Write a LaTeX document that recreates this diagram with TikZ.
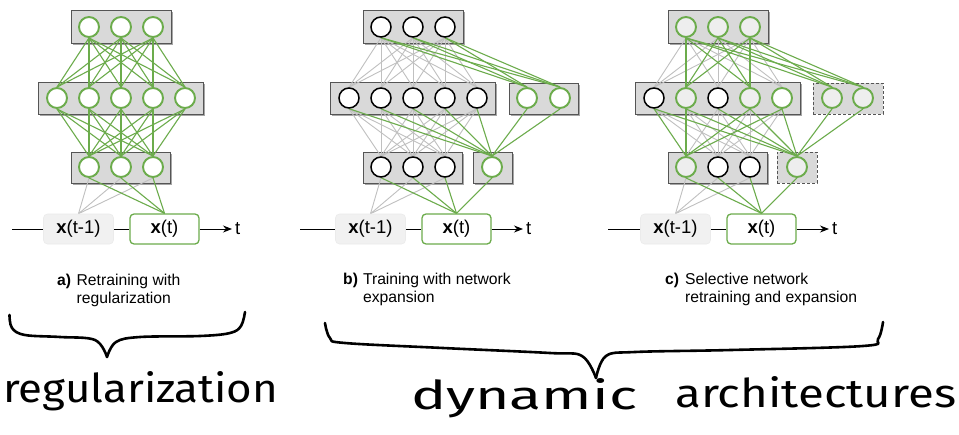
\documentclass[tikz,border=0pt]{standalone}
\usepackage{fontspec}
\usepackage{graphicx}
\setmainfont{Liberation Sans}
\newfontfamily\handfont{Fira Sans}
\usetikzlibrary{arrows.meta,shadows}
\definecolor{gr}{RGB}{108,172,76}
\definecolor{boxfill}{RGB}{217,217,217}
\definecolor{boxedge}{RGB}{85,85,85}
\definecolor{lgray}{RGB}{192,192,192}
\definecolor{cfill}{RGB}{238,238,238}
\definecolor{prevfill}{RGB}{241,241,241}
\pgfdeclarelayer{boxes}
\pgfdeclarelayer{lines}
\pgfsetlayers{boxes,lines,main}
\tikzset{
  layerbox/.style={rectangle,fill=boxfill,draw=boxedge,line width=0.8pt,inner sep=0pt,
    drop shadow={shadow xshift=1.6pt,shadow yshift=-1.6pt,fill=black,opacity=0.35}},
  dashbox/.style={rectangle,fill=boxfill,draw=boxedge,line width=0.8pt,inner sep=0pt,dashed,
    dash pattern=on 3pt off 2pt},
  neuron/.style={circle,minimum size=20pt,inner sep=0pt},
  gc/.style={neuron,draw=gr,line width=1.9pt,fill=white},
  gcf/.style={neuron,draw=gr,line width=1.9pt,fill=cfill},
  bc/.style={neuron,draw=black,line width=1.5pt,fill=white},
  gline/.style={draw=gr,line width=1.1pt},
  lline/.style={draw=lgray,line width=0.9pt},
  prevbox/.style={rectangle,rounded corners=4pt,fill=prevfill,draw=black!8,line width=0.6pt,
    minimum width=70pt,minimum height=30pt,inner sep=0pt,font=\fontsize{18.5}{20}\selectfont},
  curbox/.style={rectangle,rounded corners=4pt,fill=white,draw=gr,line width=1.3pt,
    minimum width=69pt,minimum height=30pt,inner sep=0pt,font=\fontsize{18.5}{20}\selectfont},
  timeline/.style={draw=black,line width=0.9pt},
  tlabel/.style={inner sep=0pt,font=\fontsize{18.5}{20}\selectfont},
  caption/.style={inner sep=0pt,anchor=base west,font=\fontsize{15.7}{18.5}\selectfont},
  handline/.style={draw=black,line width=2.6pt,line cap=round,line join=round},
  handtext/.style={inner sep=0pt,anchor=base west,font=\handfont\fontsize{40}{40}\selectfont}
}
\newcommand\panelframe[4]{%
  \begin{pgfonlayer}{boxes}
    \node[layerbox,minimum width=100pt,minimum height=33pt] (#1LT) at (#2,26.5) {};
    \node[layerbox,minimum width=165pt,minimum height=32pt] (#1LM) at (#2,98) {};
    \node[layerbox,minimum width=99pt,minimum height=31pt] (#1LB) at (#2,167.5) {};
  \end{pgfonlayer}
  \node[prevbox] (#1P) at (#2-42.5,229) {\textbf{x}(t-1)};
  \node[curbox] (#1X) at (#2+43.5,229) {\textbf{x}(t)};
  \coordinate (#1S) at (#3,229);
  \coordinate (#1E) at (#4,229);
  \draw[timeline] (#1S) -- (#1P);
  \draw[timeline] (#1P) -- (#1X);
  \draw[timeline,-{Stealth[length=9pt,width=7pt]}] (#1X) -- (#1E);
  \node[tlabel,anchor=west] (#1t) at ([xshift=3pt]#1E) {t};
}
\begin{document}
\begin{tikzpicture}[x=1pt,y=-1pt]
\begin{pgfonlayer}{boxes}
  \path[use as bounding box,fill=white] (0,0) rectangle (959,434);
\end{pgfonlayer}

% ---------------- panel a ----------------
\panelframe{a}{121}{12}{232}
\foreach \i in {1,2,3} \node[gc] (aT\i) at (121+32*\i-64,27) {};
\foreach \i in {1,...,5} \node[gc] (aM\i) at (121+32*\i-96,98) {};
\foreach \i in {1,2,3} \node[gc] (aB\i) at (121+32*\i-64,167) {};
\begin{pgfonlayer}{lines}
  \foreach \k in {1,2,3} \draw[lline] (aB\k.south) -- (aP.north);
  \foreach \i in {1,2,3} \foreach \j in {1,...,5} \draw[gline] (aT\i.south) -- (aM\j.north);
  \foreach \j in {1,...,5} \foreach \k in {1,2,3} \draw[gline] (aM\j.south) -- (aB\k.north);
  \foreach \k in {1,2,3} \draw[gline] (aB\k.south) -- (aX.north);
\end{pgfonlayer}
\node[caption] (capa) at (57,285) {\begin{tabular}[t]{@{}l@{\hspace{5.5pt}}l@{}}\textbf{a)}&Retraining with\\&regularization\end{tabular}};

% ---------------- panel b ----------------
\panelframe{b}{413}{300}{523}
\begin{pgfonlayer}{boxes}
  \node[layerbox,minimum width=69pt,minimum height=31pt] (bLE) at (543.5,98.5) {};
  \node[layerbox,minimum width=39pt,minimum height=31pt] (bLF) at (492.5,167.5) {};
\end{pgfonlayer}
\foreach \i in {1,2,3} \node[bc] (bT\i) at (413+32*\i-64,27) {};
\foreach \i in {1,...,5} \node[bc] (bM\i) at (413+32*\i-96,98) {};
\foreach \i in {1,2,3} \node[bc] (bB\i) at (413+32*\i-64,167) {};
\node[gc] (bE1) at (527,98) {};
\node[gc] (bE2) at (560,98) {};
\node[gc] (bF) at (492,167) {};
\begin{pgfonlayer}{lines}
  \foreach \i in {1,2,3} \foreach \j in {1,...,5} \draw[lline] (bT\i.south) -- (bM\j.north);
  \foreach \j in {1,...,5} \foreach \k in {1,2,3} \draw[lline] (bM\j.south) -- (bB\k.north);
  \foreach \k in {1,2,3} \draw[lline] (bB\k.south) -- (bP.north);
  \foreach \i in {1,2,3} \foreach \e in {1,2} \draw[gline] (bT\i.south) -- (bE\e.north);
  \foreach \j in {1,...,5} \draw[gline] (bM\j.south) -- (bF.north);
  \foreach \e in {1,2} \draw[gline] (bE\e.south) -- (bF.north);
  \foreach \k in {1,2,3} \draw[gline] (bB\k.south) -- (bX.north);
  \draw[gline] (bF.south) -- (bX.north);
\end{pgfonlayer}
\node[caption] (capb) at (343,284) {\begin{tabular}[t]{@{}l@{\hspace{5pt}}l@{}}\textbf{b)}&Training with network\\&expansion\end{tabular}};

% ---------------- panel c ----------------
\panelframe{c}{718}{608}{829}
\begin{pgfonlayer}{boxes}
  \node[dashbox,minimum width=70pt,minimum height=31pt] (cLE) at (848,98.5) {};
  \node[dashbox,minimum width=40pt,minimum height=31pt] (cLF) at (797,167.5) {};
\end{pgfonlayer}
\foreach \i in {1,2,3} \node[gcf] (cT\i) at (718+32*\i-64,27) {};
\node[bc]  (cM1) at (654,98) {};
\node[gcf] (cM2) at (686,98) {};
\node[bc]  (cM3) at (718,98) {};
\node[gcf] (cM4) at (750,98) {};
\node[gc]  (cM5) at (782,98) {};
\node[gcf] (cB1) at (686,167) {};
\node[bc]  (cB2) at (718,167) {};
\node[bc]  (cB3) at (750,167) {};
\node[gcf] (cE1) at (832,98) {};
\node[gcf] (cE2) at (863,98) {};
\node[gcf] (cF) at (797,167) {};
\begin{pgfonlayer}{lines}
  \foreach \i in {1,2,3} \foreach \j in {1,3,5} \draw[lline] (cT\i.south) -- (cM\j.north);
  \foreach \j in {1,...,5} \foreach \k in {2,3} \draw[lline] (cM\j.south) -- (cB\k.north);
  \draw[lline] (cM3.south) -- (cB1.north);
  \foreach \k in {1,2,3} \draw[lline] (cB\k.south) -- (cP.north);
  \foreach \i in {1,2,3} \foreach \j in {2,4} \draw[gline] (cT\i.south) -- (cM\j.north);
  \foreach \i in {1,2,3} \foreach \e in {1,2} \draw[gline] (cT\i.south) -- (cE\e.north);
  \foreach \j in {1,2,4,5} \draw[gline] (cM\j.south) -- (cB1.north);
  \foreach \j in {1,...,5} \draw[gline] (cM\j.south) -- (cF.north);
  \foreach \e in {1,2} \draw[gline] (cE\e.south) -- (cF.north);
  \foreach \k in {1,2,3} \draw[gline] (cB\k.south) -- (cX.north);
  \draw[gline] (cF.south) -- (cX.north);
\end{pgfonlayer}
\node[caption] (capc) at (665,284) {\begin{tabular}[t]{@{}l@{\hspace{6pt}}l@{}}\textbf{c)}&Selective network\\&retraining and expansion\end{tabular}};

% ---------------- hand-drawn braces and words ----------------
\draw[handline] plot[smooth,tension=0.6] coordinates {(9.5,315) (12,328) (25,335) (60,337) (95,340) (107,357)};
\draw[handline] plot[smooth,tension=0.6] coordinates {(107,357) (116,342) (140,337) (200,336) (230,333) (241,326) (245,312)};
\draw[handline] plot[smooth,tension=0.6] coordinates {(325,323) (330,338) (345,343) (443,348) (550,353) (582,356) (596,378)};
\draw[handline] plot[smooth,tension=0.6] coordinates {(596,378) (606,356) (635,352) (731,350) (863,346) (878,339) (883,322)};
\node[handtext] (hreg) at (3,402) {\resizebox{275pt}{31pt}{regularization}};
\node[handtext] (hdyn) at (411,409) {\resizebox{226pt}{31pt}{dynamic}};
\node[handtext] (harch) at (675,407) {\resizebox{281pt}{31pt}{architectures}};
\end{tikzpicture}
\end{document}
